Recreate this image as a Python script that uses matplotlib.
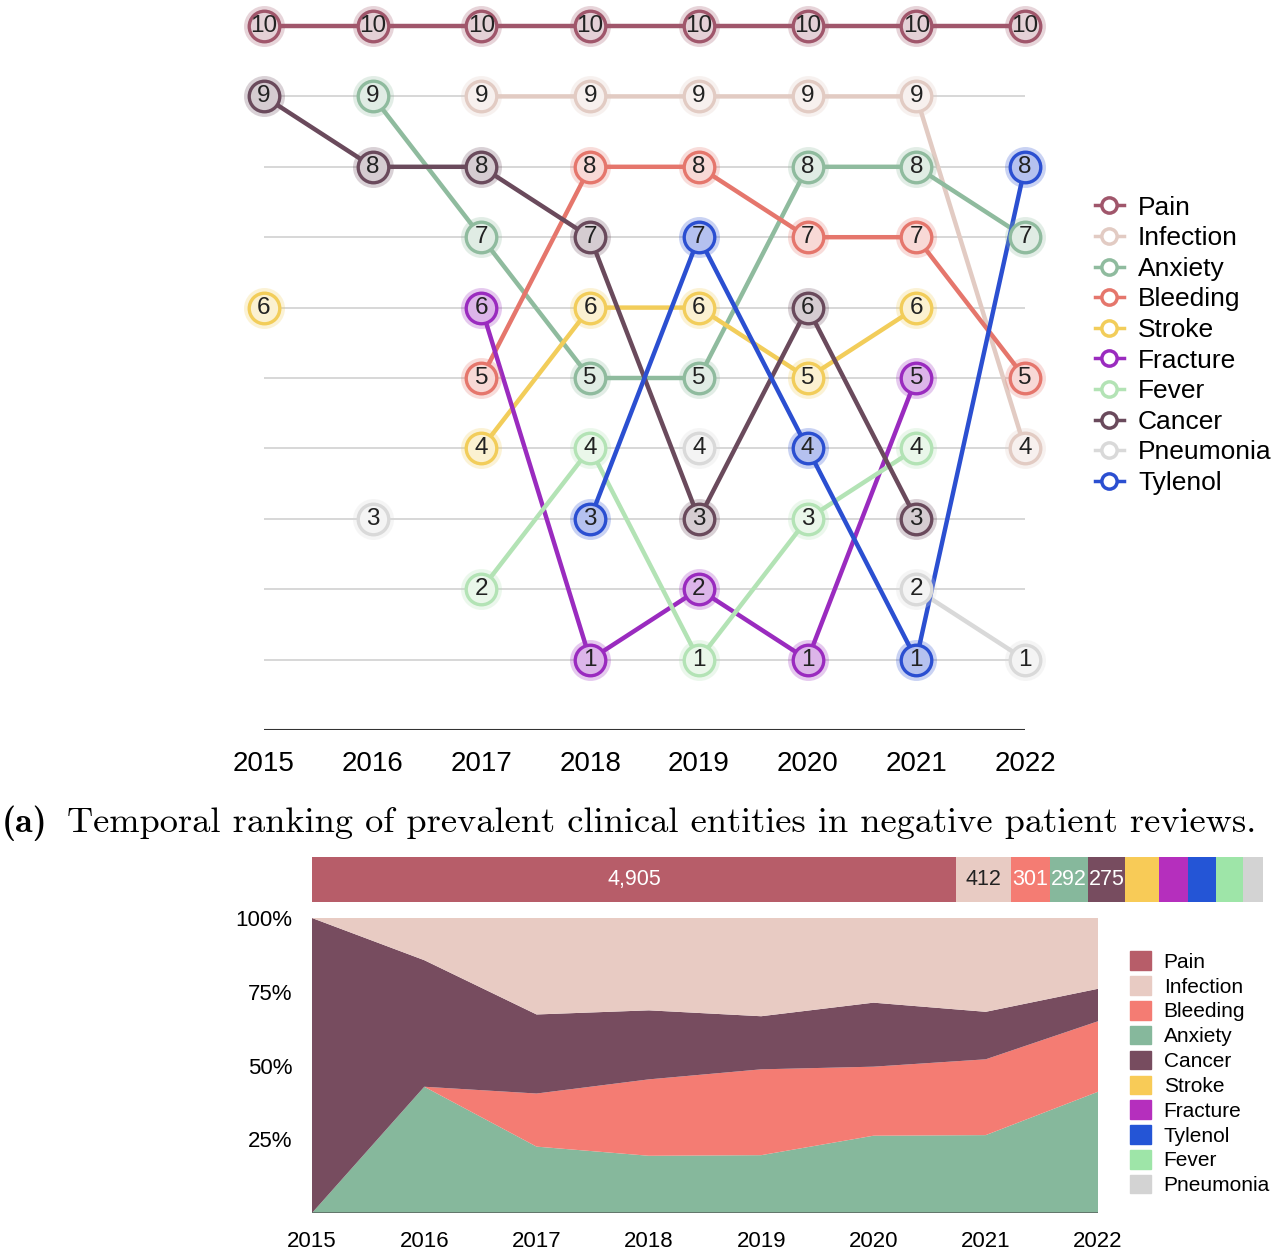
import numpy as np
import matplotlib
matplotlib.use("Agg")
import matplotlib.pyplot as plt
from matplotlib.lines import Line2D
from matplotlib.patches import Patch
from matplotlib.colors import to_rgb

plt.rcParams['font.family'] = ['Liberation Sans', 'DejaVu Sans']

# --- data ---
years = [2015, 2016, 2017, 2018, 2019, 2020, 2021, 2022]
nan = np.nan

# rank of each entity per year (10 = most frequent), nan = not in top 10
rank_pain = [10, 10, 10, 10, 10, 10, 10, 10]
rank_infection = [nan, nan, 9, 9, 9, 9, 9, 4]
rank_anxiety = [nan, 9, 7, 5, 5, 8, 8, 7]
rank_bleeding = [nan, nan, 5, 8, 8, 7, 7, 5]
rank_stroke = [6, nan, 4, 6, 6, 5, 6, nan]
rank_fracture = [nan, nan, 6, 1, 2, 1, 5, nan]
rank_fever = [nan, nan, 2, 4, 1, 3, 4, nan]
rank_cancer = [9, 8, 8, 7, 3, 6, 3, nan]
rank_pneumonia = [nan, 3, nan, nan, 4, nan, 2, 1]
rank_tylenol = [nan, nan, nan, 3, 7, 4, 1, 8]

bump_names = ['Pain', 'Infection', 'Anxiety', 'Bleeding', 'Stroke',
              'Fracture', 'Fever', 'Cancer', 'Pneumonia', 'Tylenol']
bump_ranks = [rank_pain, rank_infection, rank_anxiety, rank_bleeding, rank_stroke,
              rank_fracture, rank_fever, rank_cancer, rank_pneumonia, rank_tylenol]
bump_colors = ['#a0566b', '#e2cbc3', '#8fbb9e', '#e5766c', '#f2cd5a',
               '#9a2bbf', '#b3e3b5', '#6a4a5c', '#d9d9d9', '#2b4fd1']

# total mentions (bar on top of area chart)
total_names = ['Pain', 'Infection', 'Bleeding', 'Anxiety', 'Cancer',
               'Stroke', 'Fracture', 'Tylenol', 'Fever', 'Pneumonia']
total_counts = [4905, 412, 301, 292, 275, 259, 224, 217, 198, 156]
total_colors = ['#b75d69', '#e8cbc3', '#f47c73', '#86b89c', '#774c5f',
                '#f8cb57', '#b52fbd', '#2455d6', '#9ee5a8', '#d3d3d3']

# share (%) per year in the stacked area
share_anxiety = [0, 42.8, 22.5, 19.4, 19.6, 26.2, 26.4, 41.1]
share_bleeding = [0, 0, 18.0, 25.9, 29.1, 23.4, 25.7, 23.9]
share_cancer = [100, 42.9, 26.8, 23.4, 18.0, 21.7, 16.1, 11.0]
share_infection = [0, 14.3, 32.7, 31.3, 33.3, 28.7, 31.8, 24.0]


def tint(c, a):
    r, g, b = to_rgb(c)
    return (1 - a * (1 - r), 1 - a * (1 - g), 1 - a * (1 - b))


W, H = 1280, 1259
fig = plt.figure(figsize=(W / 100, H / 100), dpi=100)


def px_axes(x0, y0, x1, y1):
    return fig.add_axes([x0 / W, 1 - y1 / H, (x1 - x0) / W, (y1 - y0) / H])


# --- bump chart ---
ax = px_axes(264, 26, 1025, 730)
ax.set_xlim(2015, 2022)
ax.set_ylim(0, 10)
for r in range(1, 10):
    ax.axhline(r, color='#d4d4d4', lw=1.3, zorder=0)
ax.axhline(0, color='#333333', lw=1.5, zorder=0)
for sp in ax.spines.values():
    sp.set_visible(False)
ax.set_yticks([])
ax.set_xticks(years)
ax.set_xticklabels([str(y) for y in years], fontsize=20)
ax.tick_params(axis='x', length=0, pad=15)

for name, rk, col in zip(bump_names, bump_ranks, bump_colors):
    ax.plot(years, rk, color=col, lw=3.2, zorder=2, solid_capstyle='round',
            clip_on=False)
for name, rk, col in zip(bump_names, bump_ranks, bump_colors):
    a = 0.35 if name in ('Fracture', 'Tylenol') else 0.28
    ax.plot(years, rk, ls='none', marker='o', ms=29.5, mfc=col, mec='none',
            alpha=0.25, zorder=3, clip_on=False)
    ax.plot(years, rk, ls='none', marker='o', ms=22, mfc=tint(col, a), mec=col,
            mew=2.4, zorder=4, clip_on=False)
    for x, r in zip(years, rk):
        if not np.isnan(r):
            ax.text(x, r, str(int(r)), ha='center', va='center', fontsize=17.5,
                    color='#222222', zorder=5)

handles = [Line2D([0], [0], color=c, lw=2.5, marker='o', ms=11, mfc='white',
                  mec=c, mew=2.5) for c in bump_colors]
fig.legend(handles, bump_names, loc='upper left',
           bbox_to_anchor=(1084 / W, 1 - 185 / H), frameon=False, fontsize=19,
           handlelength=1.1, handletextpad=0.55, labelspacing=0.25,
           borderaxespad=0)

# --- caption ---
fig.text(2 / W, 1 - 823 / H, '(a)', family='cmb10', fontsize=26, va='center')
fig.text(67 / W, 1 - 823 / H,
         'Temporal ranking of prevalent clinical entities in negative patient reviews.',
         family='cmr10', fontsize=26.15, va='center')

# --- totals bar ---
bx = px_axes(312, 857, 1263, 902)
left = 0
for n, v, c in zip(total_names, total_counts, total_colors):
    bx.barh(0, v, left=left, color=c, height=1, edgecolor='none')
    if v >= 270:
        tc = '#222222' if n == 'Infection' else 'white'
        bx.text(left + v / 2, 0, f'{v:,}', ha='center', va='center',
                fontsize=15.5, color=tc)
    left += v
bx.set_xlim(0, sum(total_counts))
bx.set_ylim(-0.5, 0.5)
bx.axis('off')

# --- stacked area ---
sx = px_axes(312, 918, 1098, 1213)
sx.stackplot(years, share_anxiety, share_bleeding, share_cancer, share_infection,
             colors=['#86b89c', '#f47c73', '#774c5f', '#e8cbc3'], lw=0)
sx.set_xlim(2015, 2022)
sx.set_ylim(0, 100)
sx.set_yticks([25, 50, 75, 100])
sx.set_yticklabels(['25%', '50%', '75%', '100%'], fontsize=16)
sx.set_xticks(years)
sx.set_xticklabels([str(y) for y in years], fontsize=16)
sx.tick_params(length=0)
sx.tick_params(axis='y', pad=14)
sx.tick_params(axis='x', pad=13)
for sp in sx.spines.values():
    sp.set_visible(False)
sx.axhline(0, color='#5d6b63', lw=1.2)

patches = [Patch(color=c) for c in total_colors]
fig.legend(patches, total_names, loc='upper left',
           bbox_to_anchor=(1122 / W, 1 - 943 / H), frameon=False, fontsize=15,
           handlelength=1.0, handleheight=1.0, handletextpad=0.6,
           labelspacing=0.21, borderaxespad=0)

fig.savefig('out.png', dpi=100)
